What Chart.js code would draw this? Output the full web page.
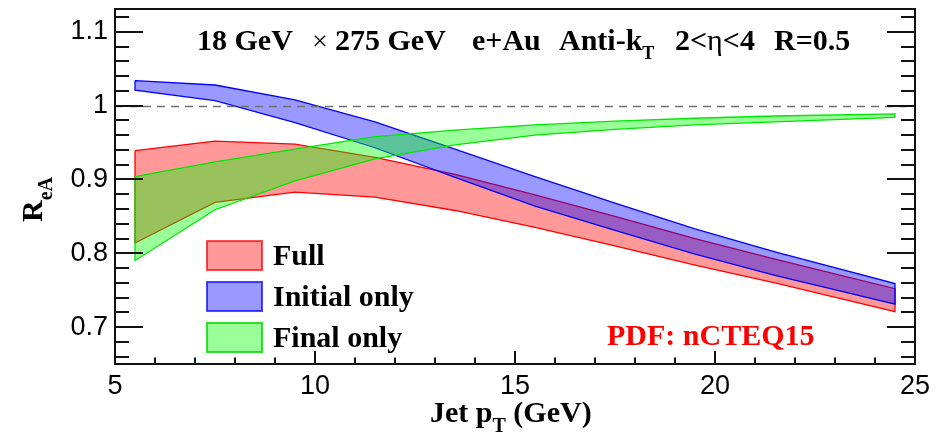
<!DOCTYPE html>
<html><head><meta charset="utf-8">
<script src="https://cdn.jsdelivr.net/npm/chart.js@4.4.0/dist/chart.umd.min.js"></script>
<style>html,body{margin:0;padding:0;background:#fff;} canvas{display:block;}</style>
</head><body>
<canvas id="c" width="944" height="435"></canvas>
<script>
// ---- data ----
const ptBins    = [5.5, 7.5, 9.5, 11.5, 13.5, 15.5, 17.5, 19.5, 21.5, 24.5];
const fullHigh  = [0.939, 0.952, 0.948, 0.930, 0.907, 0.879, 0.850, 0.820, 0.792, 0.752];
const fullLow   = [0.814, 0.869, 0.883, 0.876, 0.858, 0.835, 0.810, 0.784, 0.760, 0.721];
const initHigh  = [1.034, 1.028, 1.008, 0.978, 0.941, 0.904, 0.868, 0.833, 0.802, 0.759];
const initLow   = [1.021, 1.007, 0.977, 0.943, 0.903, 0.864, 0.831, 0.799, 0.770, 0.731];
const finalHigh = [0.904, 0.924, 0.941, 0.958, 0.967, 0.974, 0.979, 0.983, 0.986, 0.989];
const finalLow  = [0.790, 0.859, 0.898, 0.928, 0.947, 0.960, 0.968, 0.974, 0.978, 0.984];
const seriesNames = ['Full', 'Initial only', 'Final only'];
const xTickValues = [5, 10, 15, 20, 25];
const yTickValues = [0.7, 0.8, 0.9, 1.0, 1.1];
const yTickLabels = ['0.7', '0.8', '0.9', '1', '1.1'];
const refValue = 1.0;

function band(lo, hi) {
  const pts = hi.map((v, i) => ({x: ptBins[i], y: v}));
  const back = lo.map((v, i) => ({x: ptBins[i], y: v})).reverse();
  return pts.concat(back, [{x: ptBins[0], y: hi[0]}]);
}

const SERIF = '"Liberation Serif", "Times New Roman", serif';
const SANS = '"Liberation Sans", Arial, sans-serif';
const colors = [
  {line: 'rgb(255,0,0)', fill: 'rgba(255,0,0,0.4)', box: 'rgba(255,0,0,0.7)'},
  {line: 'rgb(0,0,255)', fill: 'rgba(0,0,255,0.4)', box: 'rgba(0,0,255,0.7)'},
  {line: 'rgb(0,230,0)', fill: 'rgba(0,255,0,0.4)', box: 'rgba(0,220,0,0.8)'}
];

function ds(i, lo, hi, order) {
  return {
    label: seriesNames[i], data: band(lo, hi), showLine: true, fill: 'shape',
    backgroundColor: colors[i].fill, borderColor: colors[i].line, borderWidth: 1.3,
    pointRadius: 0, tension: 0, order: order
  };
}

function rich(ctx, x, y, pieces) {
  let cx = x;
  for (const p of pieces) {
    ctx.font = p.font;
    ctx.fillText(p.t, cx, y + (p.dy || 0));
    cx += ctx.measureText(p.t).width;
  }
}

function noPad(s) { s.paddingTop = 0; s.paddingBottom = 0; s.paddingLeft = 0; s.paddingRight = 0; }

const decor = {
  id: 'decor',
  afterDatasetsDraw(chart) {
    const {ctx, chartArea: a, scales: {x, y}} = chart;
    ctx.save();
    // dashed reference line
    ctx.strokeStyle = '#707070'; ctx.lineWidth = 1.3; ctx.setLineDash([8, 6]);
    const yr = Math.round(y.getPixelForValue(refValue)) + 0.5;
    ctx.beginPath(); ctx.moveTo(a.left, yr); ctx.lineTo(a.right, yr); ctx.stroke();
    ctx.setLineDash([]);
    // ticks (inside)
    ctx.strokeStyle = '#111'; ctx.lineWidth = 2;
    ctx.beginPath();
    for (let v = 5; v <= 25; v++) {
      const px = Math.round(x.getPixelForValue(v));
      const len = (v % 5 === 0) ? 13 : 6.5;
      ctx.moveTo(px, a.bottom); ctx.lineTo(px, a.bottom - len);
    }
    for (let k = 33; k <= 56; k++) {
      const v = k * 0.02;
      if (v < y.min || v > y.max) continue;
      const py = Math.round(y.getPixelForValue(v));
      const len = (k % 5 === 0) ? 28 : 14;
      ctx.moveTo(a.left, py); ctx.lineTo(a.left + len, py);
      ctx.moveTo(a.right, py); ctx.lineTo(a.right - len, py);
    }
    ctx.stroke();
    // frame
    ctx.lineWidth = 2;
    ctx.strokeRect(a.left, a.top, a.right - a.left, a.bottom - a.top);

    // title
    ctx.fillStyle = '#000'; ctx.textBaseline = 'alphabetic'; ctx.textAlign = 'left';
    const B = 'bold 30px ' + SERIF;
    ctx.font = B; ctx.fillText('18 GeV', 197, 50);
    ctx.font = '28px ' + SERIF; ctx.fillText('\u00d7', 312, 50);
    ctx.font = B; ctx.fillText('275 GeV', 335, 50);
    ctx.fillText('e+Au', 472, 50);
    rich(ctx, 559, 50, [{t: 'Anti-k', font: B}, {t: 'T', font: 'bold 18px ' + SERIF, dy: 9}]);
    rich(ctx, 675, 50, [{t: '2<', font: B}, {t: '\u03b7', font: '30px ' + SERIF}, {t: '<4', font: B}]);
    ctx.font = B; ctx.fillText('R=0.5', 774, 50);

    // legend
    const ly = [241, 282, 323];
    for (let i = 0; i < 3; i++) {
      ctx.fillStyle = colors[i].fill;
      ctx.fillRect(207, ly[i], 55, 29);
      ctx.strokeStyle = colors[i].box; ctx.lineWidth = 2;
      ctx.strokeRect(207, ly[i], 55, 29);
      ctx.fillStyle = '#000'; ctx.font = B;
      ctx.fillText(seriesNames[i], 273, ly[i] + 24);
    }
    // PDF label
    ctx.fillStyle = '#ff0000'; ctx.font = B;
    ctx.fillText('PDF: nCTEQ15', 607, 345);

    // x title
    ctx.fillStyle = '#000';
    rich(ctx, 430, 422, [{t: 'Jet p', font: B}, {t: 'T', font: 'bold 20px ' + SERIF, dy: 10}, {t: ' (GeV)', font: B}]);
    // y title
    ctx.save();
    ctx.translate(42, 222); ctx.rotate(-Math.PI / 2);
    rich(ctx, 0, 0, [{t: 'R', font: B}, {t: 'eA', font: 'bold 20px ' + SERIF, dy: 10}]);
    ctx.restore();
    ctx.restore();
  }
};

new Chart(document.getElementById('c'), {
  type: 'scatter',
  data: {datasets: [
    ds(0, fullLow, fullHigh, 3),
    ds(1, initLow, initHigh, 2),
    ds(2, finalLow, finalHigh, 1)
  ]},
  options: {
    responsive: false, animation: false, devicePixelRatio: 1,
    layout: {padding: {top: 9, right: 29, left: 0, bottom: 0}},
    plugins: {legend: {display: false}, tooltip: {enabled: false}},
    scales: {
      x: {
        type: 'linear', min: 5, max: 25,
        afterBuildTicks: s => { s.ticks = xTickValues.map(v => ({value: v})); },
        afterFit: s => { s.height = 71; noPad(s); },
        grid: {display: false, drawTicks: false}, border: {display: false},
        ticks: {font: {family: SANS, size: 27}, color: '#000', padding: 6, maxRotation: 0, autoSkip: false,
                callback: v => String(v)}
      },
      y: {
        type: 'linear', min: 0.65, max: 1.131,
        afterBuildTicks: s => { s.ticks = yTickValues.map(v => ({value: v})); },
        afterFit: s => { s.width = 115; noPad(s); },
        grid: {display: false, drawTicks: false}, border: {display: false},
        ticks: {font: {family: SANS, size: 27}, color: '#000', padding: 7, autoSkip: false,
                callback: (v) => { const i = yTickValues.findIndex(t => Math.abs(t - v) < 1e-6); return i >= 0 ? yTickLabels[i] : ''; }}
      }
    }
  },
  plugins: [decor]
});
</script>
</body></html>
